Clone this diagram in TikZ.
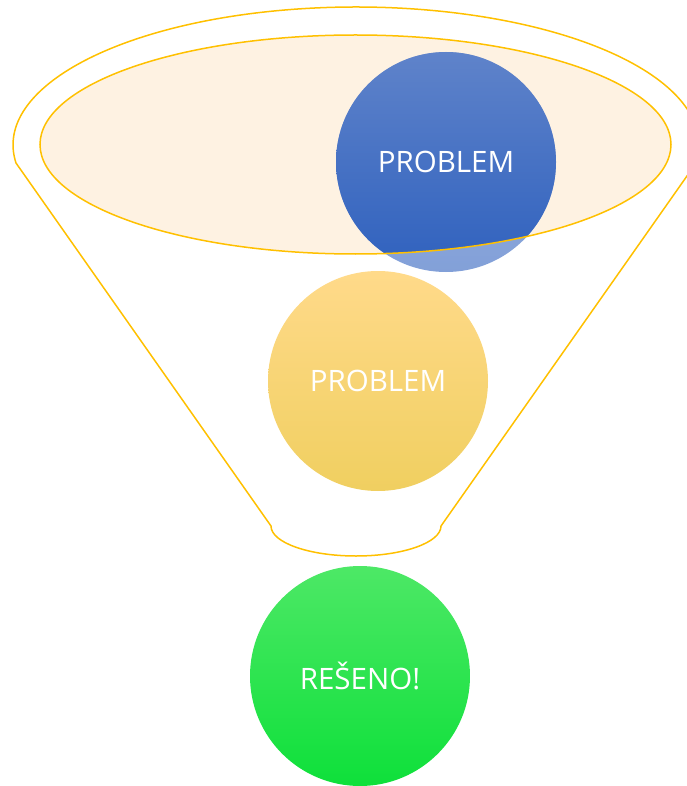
\documentclass[tikz,border=0pt]{standalone}
\usepackage{fontspec}
\setmainfont{Open Sans}
\definecolor{rim}{HTML}{FFC000}
\definecolor{mouth}{HTML}{FEF2E2}
\definecolor{blueTop}{HTML}{5F83CA}
\definecolor{blueBot}{HTML}{2F61BE}
\definecolor{yellowTop}{HTML}{FFDA8A}
\definecolor{yellowBot}{HTML}{F0CF60}
\definecolor{greenTop}{HTML}{4DE866}
\definecolor{greenBot}{HTML}{0EE03A}
\begin{document}
\begin{tikzpicture}[
x=1pt,y=-1pt,
funnel/.style={draw=rim,line width=1.5pt},
ball/.style={circle,minimum size=220pt,inner sep=0pt},
every node/.style={text=white,font=\fontsize{29.5}{36}\selectfont}
]
\useasboundingbox (0,0) rectangle (687,786);
\clip (0,0) rectangle (687,786);

% funnel body
\draw[funnel,line join=round]
	(16,163) arc[start angle=172.5,end angle=367.5,x radius=343,y radius=138]
	-- (441,526) arc[start angle=0,end angle=180,x radius=85,y radius=30]
	-- cycle;
\fill[mouth] (355.5,144.5) ellipse[x radius=315.5,y radius=109.5];

% top ball, brighter inside the mouth
\shade[top color=blueTop,bottom color=blueBot,opacity=0.6] (446,162) circle[radius=110];
\begin{scope}
	\clip (355.5,144.5) ellipse[x radius=315.5,y radius=109.5];
	\shade[top color=blueTop,bottom color=blueBot] (446,162) circle[radius=110];
\end{scope}
\draw[funnel] (355.5,144.5) ellipse[x radius=315.5,y radius=109.5];
\node (top) at (446,162) {PROBLEM};

\node[ball,top color=yellowTop,bottom color=yellowBot] (mid) at (378,381) {PROBLEM};
\node[ball,top color=greenTop,bottom color=greenBot] (out) at (360,676) {REŠENO!};
\end{tikzpicture}
\end{document}
